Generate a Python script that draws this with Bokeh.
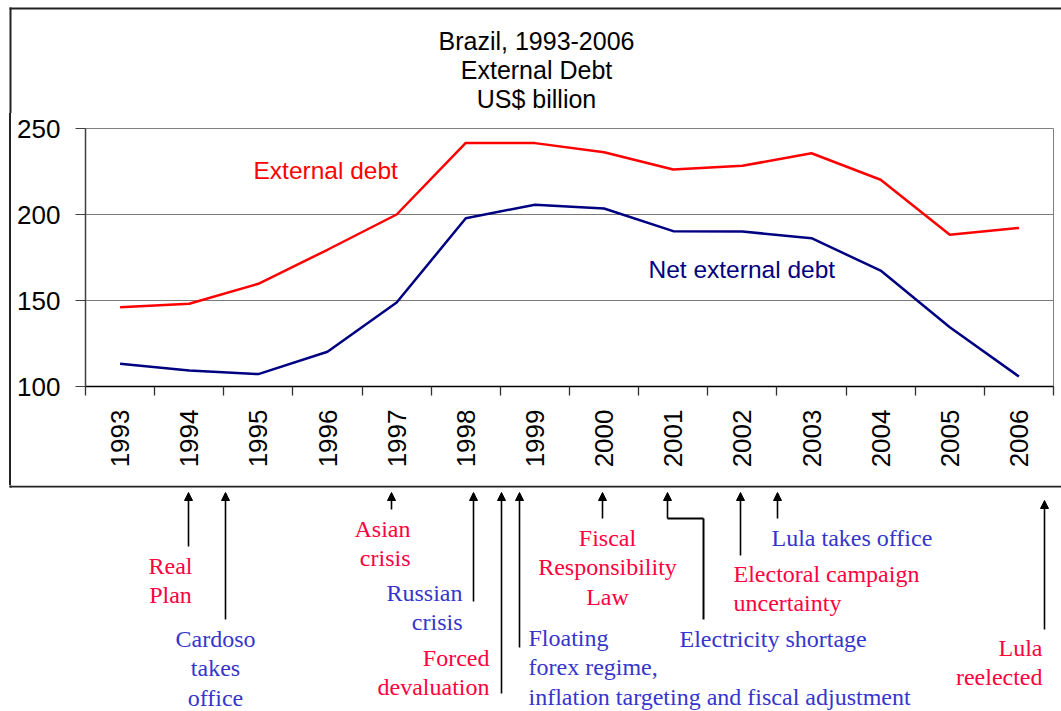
import math
from bokeh.plotting import figure
from bokeh.layouts import column, row
from bokeh.models import (Range1d, FactorRange, FixedTicker, LinearAxis, CategoricalAxis,
                          Label, Arrow, NormalHead, ColumnDataSource, Div)
from bokeh.embed import file_html
from bokeh.resources import INLINE

# ---------------- data ----------------
years = ["1993", "1994", "1995", "1996", "1997", "1998", "1999",
         "2000", "2001", "2002", "2003", "2004", "2005", "2006"]
external_debt = [146.1, 148.1, 159.7, 179.5, 200.0, 241.6, 241.5,
                 236.2, 226.2, 228.3, 235.6, 220.2, 188.2, 192.2]
net_external_debt = [113.2, 109.3, 107.2, 120.2, 148.8, 197.8, 205.7,
                     203.5, 190.3, 190.1, 186.2, 167.4, 134.5, 105.8]
y_ticks = [100, 150, 200, 250]
title_lines = ["Brazil, 1993-2006", "External Debt", "US$ billion"]
series_names = ["External debt", "Net external debt"]

event_texts = [
    ["Real", "Plan"],
    ["Cardoso", "takes", "office"],
    ["Asian", "crisis"],
    ["Russian", "crisis"],
    ["Forced", "devaluation"],
    ["Floating", "forex regime,", "inflation targeting and fiscal adjustment"],
    ["Fiscal", "Responsibility", "Law"],
    ["Electricity shortage"],
    ["Electoral campaign", "uncertainty"],
    ["Lula takes office"],
    ["Lula", "reelected"],
]

# ---------------- styles / layout ----------------
RED_TXT = "#FF0040"
BLUE_TXT = "#3535CC"
SANS = "Liberation Sans"
SERIF = "Liberation Serif"
BOX = "#222222"

# (colour, x, first line y, align) in page pixels
event_layout = [
    (RED_TXT, 170, 565, "center"),
    (BLUE_TXT, 215, 638, "center"),
    (RED_TXT, 410, 528, "right"),
    (BLUE_TXT, 462, 592, "right"),
    (RED_TXT, 489, 657, "right"),
    (BLUE_TXT, 528, 637, "left"),
    (RED_TXT, 607, 537, "center"),
    (BLUE_TXT, 679, 638, "left"),
    (RED_TXT, 733, 573, "left"),
    (BLUE_TXT, 771, 537, "left"),
    (RED_TXT, 1042, 647, "right"),
]
LINE_STEP = 29.7

arrows = [  # x, y_start, y_end (tip)
    (188, 546, 492), (225, 619, 492), (391, 509, 492), (473, 601, 492),
    (501, 693, 492), (519, 647, 492), (602, 518, 492), (667, 518, 492),
    (740, 555, 492), (777, 518, 492), (1044, 629, 500),
]
plain_segments = [((703, 619), (703, 518)), ((703, 518), (667, 518))]

PAGE_W, PAGE_H = 1061, 711
TOP_H = 113          # title strip
MID_BOTTOM = 485     # bottom of chart strip
STRIP_W = 12         # left strip holding the box edge
FRAME_L, FRAME_R, FRAME_T, FRAME_B = 85, 1053, 128, 386


def px_fig(w, h, x0, y0):
    """figure whose data units are page pixels (y downward)"""
    f = figure(width=w, height=h, x_range=Range1d(x0, x0 + w), y_range=Range1d(y0 + h, y0),
               output_backend="svg", toolbar_location=None, min_border=0,
               x_axis_location=None, y_axis_location=None)
    f.grid.visible = False
    f.outline_line_color = None
    f.background_fill_color = "white"
    f.border_fill_color = "white"
    return f


def seg(f, x0, y0, x1, y1, color="black", width=2.0, head=None):
    f.add_layout(Arrow(end=head, x_start=x0, y_start=y0, x_end=x1, y_end=y1,
                       line_color=color, line_width=width))


def lab(f, text, x, y, color, size, font, align="center"):
    f.add_layout(Label(x=x, y=y, text=text, text_color=color, text_font_size=size,
                       text_font=font, text_align=align, text_baseline="middle"))


# ---- top strip: title + box edges
top = px_fig(PAGE_W, TOP_H, 0, 0)
for i, t in enumerate(title_lines):
    lab(top, t, 536, 40 + 29.3 * i, "black", "25px", SANS)
seg(top, 9, 8, 1075, 8, BOX, 2)
seg(top, 10, 7, 10, TOP_H + 2, BOX, 2)

# ---- left strip: box edge (plain block)
strip_h = MID_BOTTOM - TOP_H
strip = Div(width=STRIP_W, height=strip_h,
            text=f'<div style="position:absolute;left:9px;top:0px;width:2px;'
                 f'height:{strip_h}px;background:{BOX}"></div>',
            styles={"margin": "0", "padding": "0", "overflow": "hidden"})

# ---- chart
p = figure(width=PAGE_W - STRIP_W, height=MID_BOTTOM - TOP_H,
           x_range=FactorRange(factors=years, range_padding=0, factor_padding=0),
           y_range=Range1d(100, 250),
           output_backend="svg", toolbar_location=None,
           x_axis_location=None, y_axis_location="left",
           min_border_left=FRAME_L - STRIP_W, min_border_right=PAGE_W - FRAME_R,
           min_border_top=FRAME_T - TOP_H, min_border_bottom=MID_BOTTOM - FRAME_B)
p.background_fill_color = "white"
p.border_fill_color = "white"
p.outline_line_color = "#808080"
p.outline_line_width = 1

yax = p.yaxis[0]
yax.ticker = FixedTicker(ticks=y_ticks)
yax.major_tick_out = 10
yax.major_tick_in = 0
yax.minor_tick_line_color = None
yax.axis_line_color = "#404040"
yax.axis_line_width = 1.5
yax.major_tick_line_color = "#404040"
yax.major_label_text_font = SANS
yax.major_label_text_font_size = "26px"
yax.major_label_text_color = "black"
yax.major_label_standoff = 15

p.ygrid.ticker = FixedTicker(ticks=y_ticks)
p.ygrid.grid_line_color = "#7a7a7a"
p.ygrid.grid_line_width = 1
p.xgrid.grid_line_color = None

# tick marks between categories
n_bounds = len(years) + 1
tick_axis = LinearAxis(ticker=FixedTicker(ticks=list(range(n_bounds))),
                       major_tick_out=9, major_tick_in=0, minor_tick_line_color=None,
                       major_label_overrides={k: "" for k in range(n_bounds)},
                       major_label_text_font_size="1px", major_label_standoff=0,
                       axis_line_color="black", axis_line_width=1.5,
                       major_tick_line_color="#303030", major_tick_line_width=1.3)
p.add_layout(tick_axis, "below")
cat_axis = CategoricalAxis(major_tick_line_color=None, axis_line_color=None,
                           minor_tick_line_color=None, major_tick_out=0,
                           major_label_orientation=math.pi / 2,
                           major_label_text_font=SANS,
                           major_label_text_font_size="26px",
                           major_label_text_color="black",
                           major_label_standoff=14)
p.add_layout(cat_axis, "below")

src = ColumnDataSource(dict(year=years, ext=external_debt, net=net_external_debt))
p.line(x="year", y="ext", source=src, line_color="#FF0000", line_width=2.5)
p.line(x="year", y="net", source=src, line_color="#000080", line_width=2.5)


def to_data(px, py):
    sx = (px - FRAME_L) * len(years) / (FRAME_R - FRAME_L)
    sy = 100 + (FRAME_B - py) * 150 / (FRAME_B - FRAME_T)
    return sx, sy


for name, (px, py), col in [(series_names[0], (253, 170), "#FF0000"),
                            (series_names[1], (648, 269), "#000080")]:
    sx, sy = to_data(px, py)
    lab(p, name, sx, sy, col, "24.5px", SANS, "left")

# ---- bottom strip: box edges + event annotations
bot = px_fig(PAGE_W, PAGE_H - MID_BOTTOM, 0, MID_BOTTOM)
seg(bot, 10, MID_BOTTOM - 2, 10, 487, BOX, 2)
seg(bot, 9, 486, 1075, 486, BOX, 2)

for lines, (col, x, y0, align) in zip(event_texts, event_layout):
    for j, t in enumerate(lines):
        lab(bot, t, x, y0 + LINE_STEP * j, col, "24px", SERIF, align)

for x, ys, ye in arrows:
    seg(bot, x, ys, x, ye, "black", 1.6,
        NormalHead(size=8, fill_color="black", line_color="black", line_width=1))
for (x0, y0), (x1, y1) in plain_segments:
    seg(bot, x0, y0, x1, y1, "black", 2.0)

layout = column(top, row(strip, p, spacing=0), bot, spacing=0)
open("out.html", "w").write(file_html(layout, INLINE))
